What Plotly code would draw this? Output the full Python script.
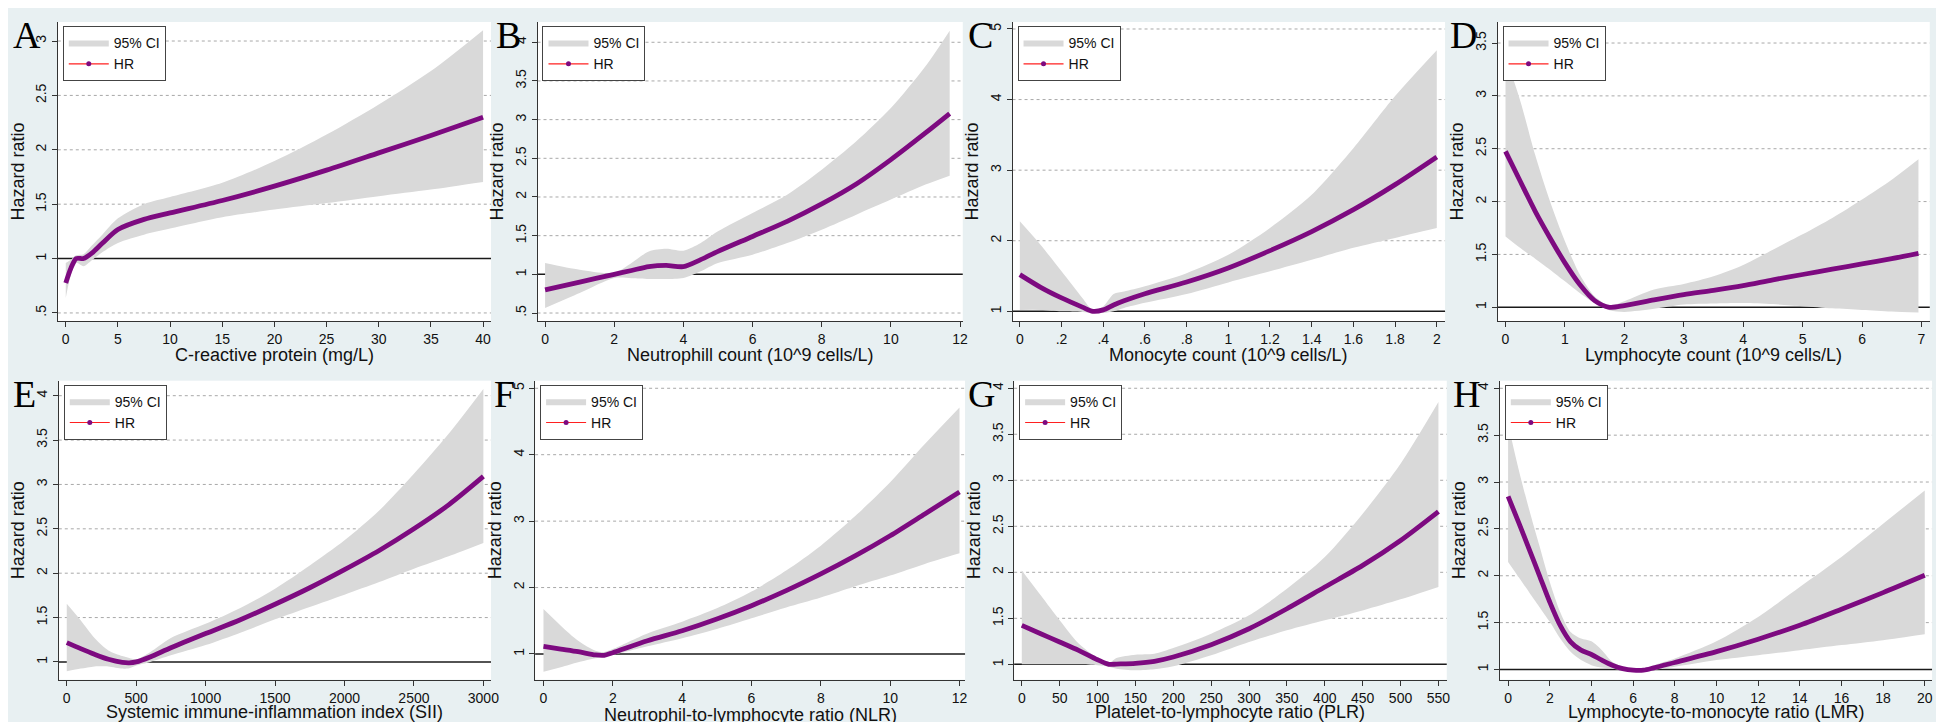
import plotly.graph_objects as go

# ---------------- data ----------------
crp_x = [0, 0.5, 1, 1.7, 2.5, 3.5, 5, 7.5, 10, 15, 20, 25, 30, 35, 40]
crp_hr = [0.776, 0.914, 1.0, 1.0, 1.05, 1.14, 1.267, 1.36, 1.42, 1.534, 1.666, 1.813, 1.972, 2.132, 2.30]
crp_hi = [0.96, 0.99, 1.03, 1.04, 1.12, 1.22, 1.37, 1.50, 1.565, 1.696, 1.896, 2.14, 2.417, 2.724, 3.10]
crp_lo = [0.638, 0.853, 0.96, 0.93, 0.985, 1.058, 1.144, 1.22, 1.276, 1.38, 1.45, 1.51, 1.574, 1.635, 1.705]

neu_x = [0, 1, 2, 2.5, 3, 3.5, 4, 4.5, 5, 6, 7, 8, 9, 10, 11, 11.7]
neu_hr = [0.80, 0.90, 1.0, 1.05, 1.10, 1.116, 1.10, 1.19, 1.297, 1.49, 1.685, 1.91, 2.168, 2.483, 2.828, 3.078]
neu_hi = [1.147, 1.06, 1.02, 1.147, 1.297, 1.33, 1.306, 1.405, 1.556, 1.793, 2.03, 2.353, 2.72, 3.15, 3.69, 4.15]
neu_lo = [0.565, 0.759, 0.953, 0.95, 0.94, 0.94, 0.953, 1.04, 1.147, 1.254, 1.405, 1.578, 1.772, 1.966, 2.16, 2.276]

mono_x = [0, 0.1, 0.2, 0.3, 0.35, 0.4, 0.45, 0.5, 0.6, 0.8, 1.0, 1.2, 1.4, 1.6, 1.8, 2.0]
mono_hr = [1.52, 1.34, 1.19, 1.06, 1.0, 1.02, 1.09, 1.15, 1.25, 1.415, 1.614, 1.86, 2.13, 2.44, 2.795, 3.187]
mono_hi = [2.275, 1.94, 1.567, 1.19, 1.02, 1.07, 1.245, 1.28, 1.355, 1.54, 1.80, 2.18, 2.65, 3.31, 4.05, 4.70]
mono_lo = [1.02, 1.02, 1.0, 0.99, 0.976, 0.976, 1.0, 1.047, 1.12, 1.245, 1.41, 1.567, 1.73, 1.90, 2.04, 2.18]

lym_x = [0, 0.25, 0.5, 0.75, 1, 1.25, 1.5, 1.75, 2, 2.5, 3, 3.5, 4, 4.5, 5, 5.5, 6, 6.5, 6.95]
lym_hr = [2.475, 2.19, 1.908, 1.656, 1.42, 1.215, 1.063, 1.0, 1.016, 1.07, 1.12, 1.16, 1.205, 1.26, 1.31, 1.36, 1.41, 1.46, 1.51]
lym_hi = [3.38, 2.95, 2.44, 2.0, 1.624, 1.31, 1.104, 1.016, 1.057, 1.167, 1.22, 1.293, 1.40, 1.545, 1.69, 1.845, 2.02, 2.207, 2.40]
lym_lo = [1.67, 1.56, 1.46, 1.356, 1.246, 1.136, 1.04, 0.972, 0.956, 0.985, 1.025, 1.035, 1.04, 1.03, 1.01, 0.99, 0.975, 0.96, 0.95]

sii_x = [0, 100, 200, 300, 400, 450, 500, 600, 750, 1000, 1250, 1500, 1750, 2000, 2250, 2500, 2750, 3000]
sii_hr = [1.218, 1.15, 1.086, 1.03, 0.995, 0.99, 1.0, 1.056, 1.16, 1.32, 1.476, 1.65, 1.836, 2.04, 2.256, 2.50, 2.77, 3.09]
sii_hi = [1.656, 1.47, 1.27, 1.13, 1.067, 1.045, 1.03, 1.11, 1.27, 1.43, 1.608, 1.825, 2.087, 2.37, 2.706, 3.12, 3.57, 4.075]
sii_lo = [0.895, 0.925, 0.95, 0.95, 0.925, 0.93, 0.96, 1.0, 1.075, 1.19, 1.33, 1.48, 1.62, 1.758, 1.90, 2.05, 2.19, 2.34]

nlr_x = [0, 0.5, 1, 1.5, 1.75, 2, 3, 4, 5, 6, 7, 8, 9, 10, 11, 12]
nlr_hr = [1.115, 1.075, 1.035, 0.985, 0.98, 1.02, 1.20, 1.35, 1.527, 1.727, 1.953, 2.205, 2.48, 2.78, 3.108, 3.44]
nlr_hi = [1.677, 1.427, 1.20, 1.05, 1.03, 1.075, 1.31, 1.487, 1.687, 1.94, 2.255, 2.63, 3.08, 3.585, 4.16, 4.71]
nlr_lo = [0.734, 0.80, 0.875, 0.935, 0.96, 0.985, 1.115, 1.236, 1.376, 1.537, 1.70, 1.85, 2.02, 2.18, 2.355, 2.515]

plr_x = [0, 25, 50, 75, 100, 115, 125, 150, 175, 200, 250, 300, 350, 400, 450, 500, 550]
plr_hr = [1.423, 1.333, 1.243, 1.152, 1.05, 1.0, 1.003, 1.011, 1.033, 1.08, 1.213, 1.387, 1.604, 1.84, 2.075, 2.346, 2.66]
plr_hi = [2.02, 1.75, 1.478, 1.225, 1.07, 1.018, 1.07, 1.105, 1.116, 1.177, 1.333, 1.532, 1.82, 2.165, 2.636, 3.18, 3.85]
plr_lo = [1.0, 1.0, 1.0, 1.0, 0.99, 0.975, 0.953, 0.935, 0.946, 0.978, 1.098, 1.242, 1.369, 1.478, 1.586, 1.706, 1.84]

lmr_x = [0, 0.5, 1, 1.5, 2, 2.5, 3, 3.5, 4, 4.5, 5, 5.5, 6, 6.5, 7, 8, 10, 12, 14, 16, 18, 20]
lmr_hr = [2.846, 2.573, 2.29, 2.005, 1.72, 1.47, 1.295, 1.206, 1.16, 1.10, 1.046, 1.01, 0.993, 0.993, 1.018, 1.075, 1.19, 1.323, 1.472, 1.643, 1.82, 2.005]
lmr_hi = [3.62, 3.14, 2.715, 2.324, 1.934, 1.614, 1.40, 1.33, 1.30, 1.206, 1.082, 1.03, 1.0, 1.005, 1.046, 1.117, 1.30, 1.56, 1.88, 2.20, 2.555, 2.91]
lmr_lo = [2.147, 1.987, 1.827, 1.667, 1.508, 1.33, 1.188, 1.10, 1.046, 1.02, 1.01, 0.99, 0.982, 0.975, 0.993, 1.028, 1.10, 1.153, 1.206, 1.26, 1.313, 1.376]

# axis titles and tick labels
x_titles = ["C-reactive protein (mg/L)", "Neutrophill count (10^9 cells/L)", "Monocyte count (10^9 cells/L)",
            "Lymphocyte count (10^9 cells/L)", "Systemic immune-inflammation index (SII)",
            "Neutrophil-to-lymphocyte ratio (NLR)", "Platelet-to-lymphocyte ratio (PLR)",
            "Lymphocyte-to-monocyte ratio (LMR)"]
letters = ["A", "B", "C", "D", "E", "F", "G", "H"]

x_ticks = [[0, 5, 10, 15, 20, 25, 30, 35, 40],
           [0, 2, 4, 6, 8, 10, 12],
           [0, 0.2, 0.4, 0.6, 0.8, 1, 1.2, 1.4, 1.6, 1.8, 2],
           [0, 1, 2, 3, 4, 5, 6, 7],
           [0, 500, 1000, 1500, 2000, 2500, 3000],
           [0, 2, 4, 6, 8, 10, 12],
           [0, 50, 100, 150, 200, 250, 300, 350, 400, 450, 500, 550],
           [0, 2, 4, 6, 8, 10, 12, 14, 16, 18, 20]]
y_ticks = [[0.5, 1, 1.5, 2, 2.5, 3],
           [0.5, 1, 1.5, 2, 2.5, 3, 3.5, 4],
           [1, 2, 3, 4, 5],
           [1, 1.5, 2, 2.5, 3, 3.5],
           [1, 1.5, 2, 2.5, 3, 3.5, 4],
           [1, 2, 3, 4, 5],
           [1, 1.5, 2, 2.5, 3, 3.5, 4],
           [1, 1.5, 2, 2.5, 3, 3.5, 4]]

series = [(crp_x, crp_hr, crp_lo, crp_hi), (neu_x, neu_hr, neu_lo, neu_hi),
          (mono_x, mono_hr, mono_lo, mono_hi), (lym_x, lym_hr, lym_lo, lym_hi),
          (sii_x, sii_hr, sii_lo, sii_hi), (nlr_x, nlr_hr, nlr_lo, nlr_hi),
          (plr_x, plr_hr, plr_lo, plr_hi), (lmr_x, lmr_hr, lmr_lo, lmr_hi)]

# ---------------- layout (pixels in a 1944x722 canvas) ----------------
W, H = 1944, 722
# plot area: left, right, top, bottom
boxes = [(50, 485, 14, 313), (531.7, 958.7, 14, 313), (1008.7, 1443, 14, 313), (1495.7, 1929.7, 14, 313),
         (51, 485, 372.7, 671.7), (529.3, 961, 372.7, 671.7), (1010.3, 1444.7, 372.7, 671.7), (1498, 1932, 372.7, 671.7)]
x_ranges = [(-0.764, 40.76), (-0.219, 12.078), (-0.0349, 2.0397), (-0.134, 7.14),
            (-57.4, 3055), (-0.241, 12.16), (-10.1, 561.0), (-0.397, 20.35)]
y_ranges = [(0.426, 3.175), (0.397, 4.262), (0.863, 5.099), (0.870, 3.699),
            (0.80, 4.169), (0.613, 5.114), (0.833, 4.082), (0.891, 4.081)]
letter_x = [3, 488, 962, 1446, 3, 486, 962, 1449]
title_gap = [34, 34, 34, 34, 32, 35, 32, 32]


def fmt(v):
    # Stata style labels: .5 instead of 0.5
    s = f"{v:g}"
    if s.startswith("0."):
        s = s[1:]
    return s


PURPLE = "#7D0A80"
BAND = "#D9D9D9"
FONT = "Liberation Sans, Arial, sans-serif"

fig = go.Figure()
layout = dict(width=W, height=H, margin=dict(l=0, r=0, t=0, b=0),
              paper_bgcolor="#E8F0F2", plot_bgcolor="white",
              font=dict(family=FONT, color="#111", size=14), showlegend=True)
shapes, annotations = [], []

for i, (xs, hr, lo, hi) in enumerate(series):
    n = "" if i == 0 else str(i + 1)
    leg = "legend" + n
    L, R, T, B = boxes[i]

    # 95% CI band
    fig.add_trace(go.Scatter(x=xs, y=hi, mode="lines", line=dict(width=0, shape="spline", smoothing=0.8),
                             xaxis="x" + n, yaxis="y" + n, showlegend=False, hoverinfo="skip"))
    fig.add_trace(go.Scatter(x=xs, y=lo, mode="lines", fill="tonexty", fillcolor=BAND,
                             line=dict(width=0, shape="spline", smoothing=0.8), name="95% CI",
                             xaxis="x" + n, yaxis="y" + n, legend=leg))
    # HR curve
    fig.add_trace(go.Scatter(x=xs, y=hr, mode="lines", line=dict(color=PURPLE, width=4.8, shape="spline", smoothing=0.8),
                             xaxis="x" + n, yaxis="y" + n, showlegend=False))
    # legend entry for HR (red line with purple marker, as in Stata)
    fig.add_trace(go.Scatter(x=[None], y=[None], mode="lines+markers", name="HR",
                             line=dict(color="#FF2020", width=1.2), marker=dict(color=PURPLE, size=5),
                             xaxis="x" + n, yaxis="y" + n, legend=leg))

    layout["xaxis" + n] = dict(domain=[L / W, R / W], anchor="y" + n, range=list(x_ranges[i]),
                               tickvals=x_ticks[i], ticktext=[fmt(v) for v in x_ticks[i]],
                               showgrid=False, zeroline=False, showline=True, linecolor="#333", linewidth=1,
                               ticks="outside", ticklen=5, tickcolor="#333", tickfont=dict(size=14))
    layout["yaxis" + n] = dict(domain=[1 - B / H, 1 - T / H], anchor="x" + n, range=list(y_ranges[i]),
                               tickvals=y_ticks[i], ticktext=[fmt(v) for v in y_ticks[i]], tickangle=-90,
                               showgrid=False, zeroline=False, showline=True, linecolor="#333", linewidth=1,
                               ticks="outside", ticklen=5, tickcolor="#333", tickfont=dict(size=14),
                               title=dict(text="Hazard ratio", font=dict(size=18), standoff=4))
    layout[leg] = dict(x=(L + 5) / W, y=1 - (T + 4) / H, xanchor="left", yanchor="top",
                       bgcolor="white", bordercolor="#444", borderwidth=1, font=dict(size=14),
                       itemwidth=40, tracegroupgap=0, traceorder="normal")

    # dotted grid lines at the labelled y ticks (solid reference line takes the place of 1)
    for v in y_ticks[i]:
        if v == 1:
            continue
        shapes.append(dict(type="line", xref=f"x{n} domain", x0=0, x1=1, yref="y" + n, y0=v, y1=v,
                           line=dict(color="#A8A8A8", width=1, dash="dot"), layer="below"))
    # reference line at HR = 1
    shapes.append(dict(type="line", xref=f"x{n} domain", x0=0, x1=1, yref="y" + n, y0=1, y1=1,
                       line=dict(color="#1A1A1A", width=1.5), layer="below"))
    # x axis title
    annotations.append(dict(text=x_titles[i], xref="paper", yref="paper", x=(L + R) / 2 / W,
                            y=1 - (B + title_gap[i]) / H, xanchor="center", yanchor="middle",
                            showarrow=False, font=dict(size=18)))
    # panel letter
    annotations.append(dict(text=letters[i], xref="paper", yref="paper", x=letter_x[i] / W,
                            y=1 - (T - 10) / H, xanchor="left", yanchor="top", showarrow=False,
                            font=dict(family="Liberation Serif, Times New Roman, serif", size=38, color="black")))

layout["shapes"] = shapes
layout["annotations"] = annotations
fig.update_layout(**layout)

fig.write_html("out.html")
